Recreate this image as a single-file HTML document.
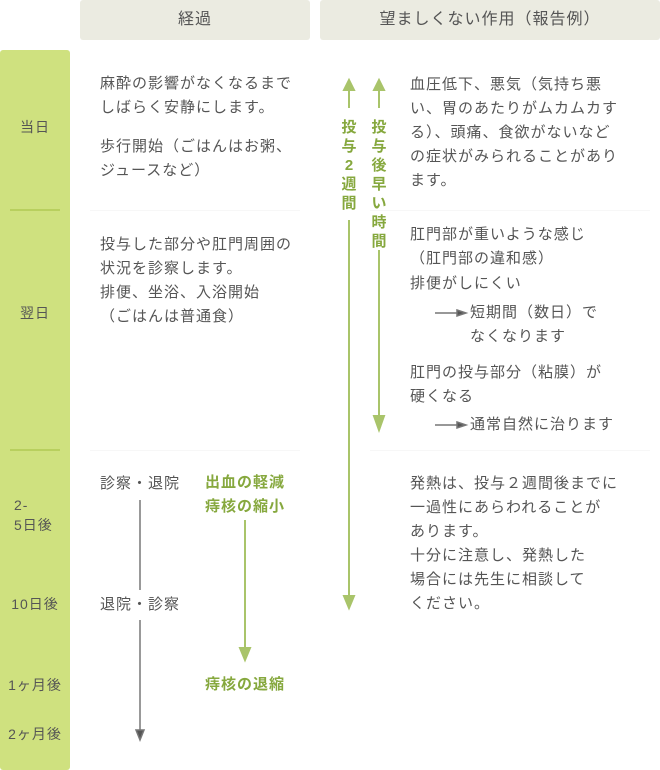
<!DOCTYPE html>
<html><head><meta charset="utf-8"><style>
body{margin:0;width:660px;height:770px;background:#fff;position:relative;overflow:hidden;font-family:"Liberation Sans","Noto Sans CJK JP",sans-serif;color:#555;}
.t{position:absolute;font-size:15px;line-height:24px;white-space:nowrap;letter-spacing:1px}
.h{position:absolute;top:0;height:40px;background:#ebebe1;border-radius:3px;font-size:16px;line-height:40px;text-align:center;color:#555;letter-spacing:1px}
.g{color:#86a83e;font-weight:bold}
.d{position:absolute;left:0;width:70px;text-align:center;font-size:14px;color:#555;letter-spacing:1px}
.sep{position:absolute;height:1px;background:#f7f7f7}
.vt{position:absolute;font-size:15px;line-height:19px;width:16px;text-align:center;color:#86a83e;font-weight:bold}
</style></head><body>
<div class="h" style="left:80px;width:230px">経過</div>
<div class="h" style="left:320px;width:340px">望ましくない作用（報告例）</div>
<div style="position:absolute;left:0;top:50px;width:70px;height:720px;background:#cfe17f;border-radius:3px"></div>
<div style="position:absolute;left:10px;top:209px;width:50px;height:2px;background:#b8cf5e"></div>
<div style="position:absolute;left:10px;top:449px;width:50px;height:2px;background:#b8cf5e"></div>
<div class="sep" style="left:90px;top:210px;width:210px"></div>
<div class="sep" style="left:370px;top:210px;width:280px"></div>
<div class="sep" style="left:90px;top:450px;width:210px"></div>
<div class="sep" style="left:370px;top:450px;width:280px"></div>

<div class="d" style="top:117px">当日</div>
<div class="d" style="top:303px">翌日</div>
<div class="d" style="top:495px;line-height:20px;text-align:left;left:14px">2-<br>5日後</div>
<div class="d" style="top:594px">10日後</div>
<div class="d" style="top:675px">1ヶ月後</div>
<div class="d" style="top:724px">2ヶ月後</div>

<div class="t" style="left:100px;top:72px">麻酔の影響がなくなるまで<br>しばらく安静にします。</div>
<div class="t" style="left:100px;top:135px">歩行開始（ごはんはお粥、<br>ジュースなど）</div>
<div class="t" style="left:100px;top:233px">投与した部分や肛門周囲の<br>状況を診察します。<br>排便、坐浴、入浴開始<br>（ごはんは普通食）</div>
<div class="t" style="left:100px;top:472px">診察・退院</div>
<div class="t" style="left:100px;top:593px">退院・診察</div>
<div class="t g" style="left:205px;top:471px">出血の軽減<br>痔核の縮小</div>
<div class="t g" style="left:205px;top:673px">痔核の退縮</div>

<div class="t" style="left:410px;top:73px">血圧低下、悪気（気持ち悪<br>い、胃のあたりがムカムカす<br>る）、頭痛、食欲がないなど<br>の症状がみられることがあり<br>ます。</div>
<div class="t" style="left:410px;top:223px">肛門部が重いような感じ<br>（肛門部の違和感）</div>
<div class="t" style="left:410px;top:272px">排便がしにくい</div>
<div class="t" style="left:470px;top:301px">短期間（数日）で<br>なくなります</div>
<div class="t" style="left:410px;top:361px">肛門の投与部分（粘膜）が<br>硬くなる</div>
<div class="t" style="left:470px;top:413px">通常自然に治ります</div>
<div class="t" style="left:410px;top:472px">発熱は、投与２週間後までに<br>一過性にあらわれることが<br>あります。<br>十分に注意し、発熱した<br>場合には先生に相談して<br>ください。</div>

<div class="vt" style="left:341px;top:118px">投<br>与<br>2<br>週<br>間</div>
<div class="vt" style="left:371px;top:118px">投<br>与<br>後<br>早<br>い<br>時<br>間</div>

<svg width="660" height="770" style="position:absolute;left:0;top:0">
<g stroke="#a9c46a" stroke-width="2" fill="#a9c46a">
<line x1="349" y1="86" x2="349" y2="108"/><polygon points="344,90 354,90 349,80"/>
<line x1="349" y1="220" x2="349" y2="598"/><polygon points="344,596 354,596 349,608"/>
<line x1="379" y1="86" x2="379" y2="108"/><polygon points="374,90 384,90 379,80"/>
<line x1="379" y1="250" x2="379" y2="420"/><polygon points="374,416 384,416 379,430"/>
<line x1="245" y1="520" x2="245" y2="650"/><polygon points="240,648 250,648 245,660"/>
</g>
<g stroke="#777" stroke-width="1.5" fill="#555">
<line x1="140" y1="500" x2="140" y2="590"/>
<line x1="140" y1="620" x2="140" y2="734"/><polygon points="136,730 144,730 140,740"/>
<line x1="435" y1="313" x2="460" y2="313"/><polygon points="457,310 466,313 457,316"/>
<line x1="435" y1="425" x2="460" y2="425"/><polygon points="457,422 466,425 457,428"/>
</g>
</svg>
</body></html>
